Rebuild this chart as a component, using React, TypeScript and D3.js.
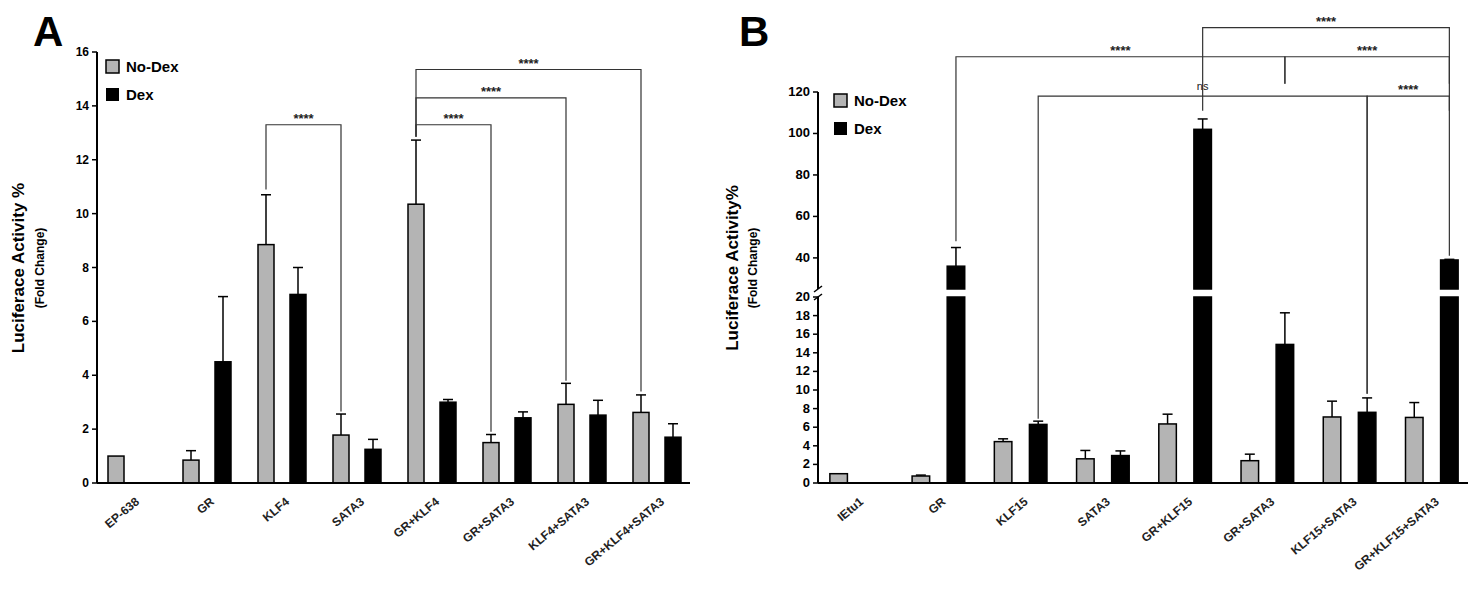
import * as d3 from 'd3'

const CATS_A = ['EP-638', 'GR', 'KLF4', 'SATA3', 'GR+KLF4', 'GR+SATA3', 'KLF4+SATA3', 'GR+KLF4+SATA3']
const NODEX_A = [1, 0.85, 8.85, 1.78, 10.35, 1.5, 2.92, 2.62]
const NODEX_A_ERR = [0, 0.35, 1.85, 0.78, 2.38, 0.3, 0.78, 0.65]
const DEX_A = [0, 4.5, 7.0, 1.25, 3.0, 2.42, 2.52, 1.7]
const DEX_A_ERR = [0, 2.42, 1.0, 0.37, 0.1, 0.22, 0.55, 0.5]
const TICKS_A = [0, 2, 4, 6, 8, 10, 12, 14, 16]
// [fromCat, fromSeries, fromDrop, toCat, toSeries, toDrop, level, label]
const BRACKETS_A: [number, number, number, number, number, number, number, string][] = [
  [2, 0, 10.9, 3, 0, 2.65, 13.3, '****'],
  [4, 0, 12.85, 5, 0, 1.9, 13.3, '****'],
  [4, 0, 12.85, 6, 0, 3.8, 14.3, '****'],
  [4, 0, 12.85, 7, 0, 3.4, 15.35, '****'],
]

const CATS_B = ['IEtu1', 'GR', 'KLF15', 'SATA3', 'GR+KLF15', 'GR+SATA3', 'KLF15+SATA3', 'GR+KLF15+SATA3']
const NODEX_B = [1, 0.75, 4.45, 2.6, 6.35, 2.4, 7.1, 7.05]
const NODEX_B_ERR = [0, 0.1, 0.3, 0.9, 1.05, 0.7, 1.7, 1.6]
const DEX_B = [0, 36, 6.3, 2.95, 102, 14.9, 7.6, 39]
const DEX_B_ERR = [0, 9, 0.35, 0.5, 5, 3.4, 1.55, 0.3]
const TICKS_B_LOW = [0, 2, 4, 6, 8, 10, 12, 14, 16, 18, 20]
const TICKS_B_HIGH = [40, 60, 80, 100, 120]
const BRACKETS_B: [number, number, number, number, number, number, number, string][] = [
  [4, 1, 111, 7, 1, 111, 151, '****'],
  [1, 1, 48, 5, 1, 124, 137, '****'],
  [5, 1, 124, 7, 1, 124, 137, '****'],
  [2, 1, 6.9, 6, 1, 9.6, 118, 'ns'],
  [6, 1, 9.6, 7, 1, 41, 118, '****'],
]

const FONT = "'Liberation Sans', Arial, sans-serif"
const GRAY = '#b4b4b4'

type Scale = (v: number) => number

function Panel({ cats, nodex, nodexErr, dex, dexErr, x0, x1, y, segments, brackets }: {
  cats: string[]; nodex: number[]; nodexErr: number[]; dex: number[]; dexErr: number[]
  x0: number; x1: number; y: Scale; segments: [number, number][]
  brackets: [number, number, number, number, number, number, number, string][]
}) {
  const x = d3.scaleBand().domain(cats).range([x0 + 2, x1]).paddingInner(0.36).paddingOuter(0.12)
  const sub = d3.scaleBand().domain(['0', '1']).range([0, x.bandwidth()]).paddingInner(0.5)
  const bw = sub.bandwidth()
  const cx = (i: number, s: number) => (x(cats[i]) ?? 0) + (sub(String(s)) ?? 0) + bw / 2
  const bars: any[] = []
  cats.forEach((c, i) => {
    ;[[nodex, nodexErr, GRAY], [dex, dexErr, '#000']].forEach(([vals, errs, fill]: any, s) => {
      const v = vals[i]
      if (!v) return
      const bx = cx(i, s) - bw / 2
      const e = errs[i]
      if (e > 0) {
        bars.push(
          <g key={`e${i}${s}`} stroke="#000" strokeWidth={1.5}>
            <line x1={cx(i, s)} x2={cx(i, s)} y1={y(v)} y2={y(v + e)} />
            <line x1={cx(i, s) - 5} x2={cx(i, s) + 5} y1={y(v + e)} y2={y(v + e)} />
          </g>
        )
      }
      segments.forEach(([lo, hi], k) => {
        if (v <= lo) return
        const top = y(Math.min(v, hi))
        const bot = y(lo)
        bars.push(<rect key={`b${i}${s}${k}`} x={bx} y={top} width={bw} height={bot - top} fill={fill} stroke="#000" strokeWidth={1.5} />)
      })
    })
  })
  return (
    <g fontFamily={FONT} fontWeight="bold">
      {bars}
      <line x1={x0} x2={x1} y1={y(0)} y2={y(0)} stroke="#000" strokeWidth={2} />
      {cats.map((c) => (
        <text key={c} transform={`translate(${(x(c) ?? 0) + x.bandwidth() / 2 + 8},${y(0) + 20}) rotate(-40)`} textAnchor="end" fontSize={12} fill="#222">{c}</text>
      ))}
      {brackets.map(([fc, fs, fd, tc, ts, td, lvl, lab], k) => {
        const a = cx(fc, fs), b = cx(tc, ts)
        return (
          <g key={k}>
            <path d={`M${a},${y(fd)}V${y(lvl)}H${b}V${y(td)}`} fill="none" stroke="#333" strokeWidth={1.2} />
            <text x={(a + b) / 2} y={y(lvl) - (lab === 'ns' ? 6 : 2)} textAnchor="middle" fontSize={lab === 'ns' ? 11 : 13} fontWeight={lab === 'ns' ? 'normal' : 'bold'} fill="#222">{lab}</text>
          </g>
        )
      })}
    </g>
  )
}

function Legend({ lx, ly }: { lx: number; ly: number }) {
  return (
    <g fontFamily={FONT} fontWeight="bold" fontSize={15}>
      <rect x={lx} y={ly} width={13} height={13} fill={GRAY} stroke="#000" strokeWidth={1.5} />
      <text x={lx + 20} y={ly + 12}>No-Dex</text>
      <rect x={lx} y={ly + 28} width={13} height={13} fill="#000" />
      <text x={lx + 20} y={ly + 40}>Dex</text>
    </g>
  )
}

export default function App() {
  const yA = d3.scaleLinear().domain([0, 16]).range([483, 52])
  const yBlow = d3.scaleLinear().domain([0, 20]).range([483, 297])
  const yBhigh = d3.scaleLinear().domain([25, 120]).range([289, 92])
  const yB = (v: number) => (v <= 20 ? yBlow(v) : v < 25 ? (yBlow(20) + yBhigh(25)) / 2 : yBhigh(v))
  const axA = 97, axB = 818
  return (
    <svg width={1468} height={605} style={{ position: 'absolute', left: 0, top: 0, background: '#fff' }}>
      <text x={33} y={46} fontFamily={FONT} fontWeight="bold" fontSize={42}>A</text>
      <text x={739} y={46} fontFamily={FONT} fontWeight="bold" fontSize={42}>B</text>
      <g fontFamily={FONT} fontWeight="bold">
        <text transform="translate(24,268) rotate(-90)" textAnchor="middle" fontSize={17}>Luciferace Activity %</text>
        <text transform="translate(44,268) rotate(-90)" textAnchor="middle" fontSize={12}>(Fold Change)</text>
        <text transform="translate(738,268) rotate(-90)" textAnchor="middle" fontSize={17}>Luciferace Activity%</text>
        <text transform="translate(757,268) rotate(-90)" textAnchor="middle" fontSize={12}>(Fold Change)</text>
      </g>
      <g fontFamily={FONT} fontWeight="bold" fontSize={12}>
        <line x1={axA} x2={axA} y1={yA(16)} y2={yA(0)} stroke="#000" strokeWidth={2} />
        {TICKS_A.map(t => (
          <g key={t}>
            <line x1={axA - 5} x2={axA} y1={yA(t)} y2={yA(t)} stroke="#000" strokeWidth={1.5} />
            <text x={axA - 8} y={yA(t) + 4} textAnchor="end">{t}</text>
          </g>
        ))}
      </g>
      <Panel cats={CATS_A} nodex={NODEX_A} nodexErr={NODEX_A_ERR} dex={DEX_A} dexErr={DEX_A_ERR}
        x0={axA} x1={690} y={yA} segments={[[0, 16]]} brackets={BRACKETS_A} />
      <Legend lx={106} ly={60} />
      <g fontFamily={FONT} fontWeight="bold" fontSize={13}>
        <line x1={axB} x2={axB} y1={yBlow(20)} y2={yBlow(0)} stroke="#000" strokeWidth={2} />
        <line x1={axB} x2={axB} y1={yBhigh(120)} y2={yBhigh(25)} stroke="#000" strokeWidth={2} />
        <line x1={axB - 4} x2={axB + 4} y1={yBhigh(25) + 3} y2={yBhigh(25) - 3} stroke="#000" strokeWidth={1.5} />
        <line x1={axB - 4} x2={axB + 4} y1={yBlow(20) + 3} y2={yBlow(20) - 3} stroke="#000" strokeWidth={1.5} />
        {TICKS_B_LOW.map(t => (
          <g key={t}>
            <line x1={axB - 5} x2={axB} y1={yBlow(t)} y2={yBlow(t)} stroke="#000" strokeWidth={1.5} />
            <text x={axB - 8} y={yBlow(t) + 4} textAnchor="end">{t}</text>
          </g>
        ))}
        {TICKS_B_HIGH.map(t => (
          <g key={t}>
            <line x1={axB - 5} x2={axB} y1={yBhigh(t)} y2={yBhigh(t)} stroke="#000" strokeWidth={1.5} />
            <text x={axB - 8} y={yBhigh(t) + 4} textAnchor="end">{t}</text>
          </g>
        ))}
      </g>
      <Panel cats={CATS_B} nodex={NODEX_B} nodexErr={NODEX_B_ERR} dex={DEX_B} dexErr={DEX_B_ERR}
        x0={axB} x1={1468} y={yB} segments={[[0, 20], [25, 120]]} brackets={BRACKETS_B} />
      <Legend lx={834} ly={94} />
    </svg>
  )
}
